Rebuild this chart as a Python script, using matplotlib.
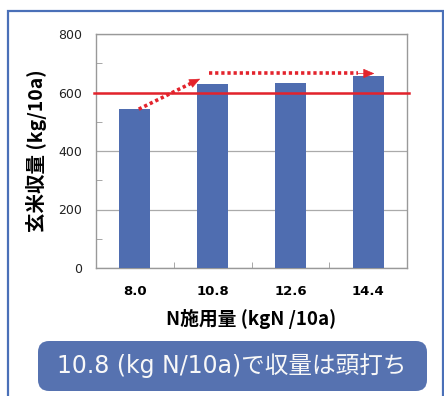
import numpy as np
import matplotlib
matplotlib.use("Agg")
import matplotlib.pyplot as plt
from matplotlib.patches import FancyBboxPatch, Rectangle

plt.rcParams['font.family'] = ['Noto Sans CJK JP', 'DejaVu Sans']

# N application rate (kgN/10a) and brown rice yield (kg/10a)
n_rates = ['8.0', '10.8', '12.6', '14.4']
yields = [543, 629, 633, 656]
target_yield = 600
y_ticks = [0, 200, 400, 600, 800]

bar_color = '#4f6db0'
red = '#e3232c'
frame_color = '#4a70b8'

fig = plt.figure(figsize=(4.44, 3.96), dpi=100)
W, H = 444, 396

# outer blue frame (open to the right/bottom like a cropped panel)
fig.add_artist(Rectangle((8 / W, -0.05), (443 - 8) / W, (H - 11) / H + 0.05,
                         transform=fig.transFigure, fill=False,
                         ec=frame_color, lw=1.6))

ax = fig.add_axes([96 / W, (H - 268) / H, 311 / W, 234 / H])
x = np.arange(len(n_rates))
ax.bar(x, yields, width=0.4, color=bar_color, zorder=3)
ax.set_xlim(-0.5, len(n_rates) - 0.5)
ax.set_ylim(0, 800)

ax.set_yticks(y_ticks)
ax.set_yticklabels([str(v) for v in y_ticks], fontsize=9, family='DejaVu Sans',
                   color='#222222')
ax.set_yticks(np.arange(100, 800, 200), minor=True)
ax.tick_params(axis='y', which='major', length=0, pad=10)
ax.tick_params(axis='y', which='minor', direction='in', length=4, color='#999999')
ax.yaxis.grid(True, which='major', color='#aaaaaa', lw=0.9, zorder=0)

ax.set_xticks(x)
ax.set_xticklabels(n_rates, fontsize=9.5, fontweight='bold', family='DejaVu Sans')
ax.set_xticks(np.arange(0.5, len(n_rates) - 0.5, 1), minor=True)
ax.tick_params(axis='x', which='major', length=0, pad=12)
ax.tick_params(axis='x', which='minor', direction='in', length=4, color='#999999')
for s in ax.spines.values():
    s.set_color('#999999')
    s.set_linewidth(1.0)

ax.set_ylabel('玄米収量 (kg/10a)', fontsize=14, fontweight='bold', labelpad=8)
ax.set_xlabel('N施用量 (kgN /10a)', fontsize=13.5, fontweight='bold', labelpad=8)

# reference yield line
ax.axhline(target_yield, xmin=-0.005, xmax=1.005, color=red, lw=1.8,
           zorder=4, clip_on=False)


def dotted_arrow(x0, y0, x1, y1):
    # dotted shaft, then a solid head on the last stretch
    f = 0.9
    xm, ym = x0 + f * (x1 - x0), y0 + f * (y1 - y0)
    ax.plot([x0, xm], [y0, ym], color=red, lw=2.6, ls=(0, (0.9, 0.8)),
            solid_capstyle='butt', dash_capstyle='butt', zorder=5)
    ax.annotate('', xy=(x1, y1), xytext=(xm, ym), zorder=5,
                arrowprops=dict(arrowstyle='-|>,head_length=0.7,head_width=0.3',
                                color=red, lw=0.5, shrinkA=0, shrinkB=0))


# rise up to 10.8, then plateau
dotted_arrow(0.05, yields[0], 0.84, yields[1] + 18)
dotted_arrow(0.95, yields[3] + 9, 3.08, yields[3] + 9)

# summary box
fig.add_artist(FancyBboxPatch((38 / W, (H - 391) / H), (427 - 38) / W, 50 / H,
                              boxstyle='round,pad=0,rounding_size=0.025',
                              transform=fig.transFigure, fc='#5672b0',
                              ec='none', mutation_aspect=W / H))
fig.text(232 / W, (H - 366) / H, '10.8 (kg N/10a)で収量は頭打ち',
         color='#f8f8f8', fontsize=17, ha='center', va='center',
         family=['DejaVu Sans', 'Noto Sans CJK JP'])

plt.savefig('out.png', dpi=100)
